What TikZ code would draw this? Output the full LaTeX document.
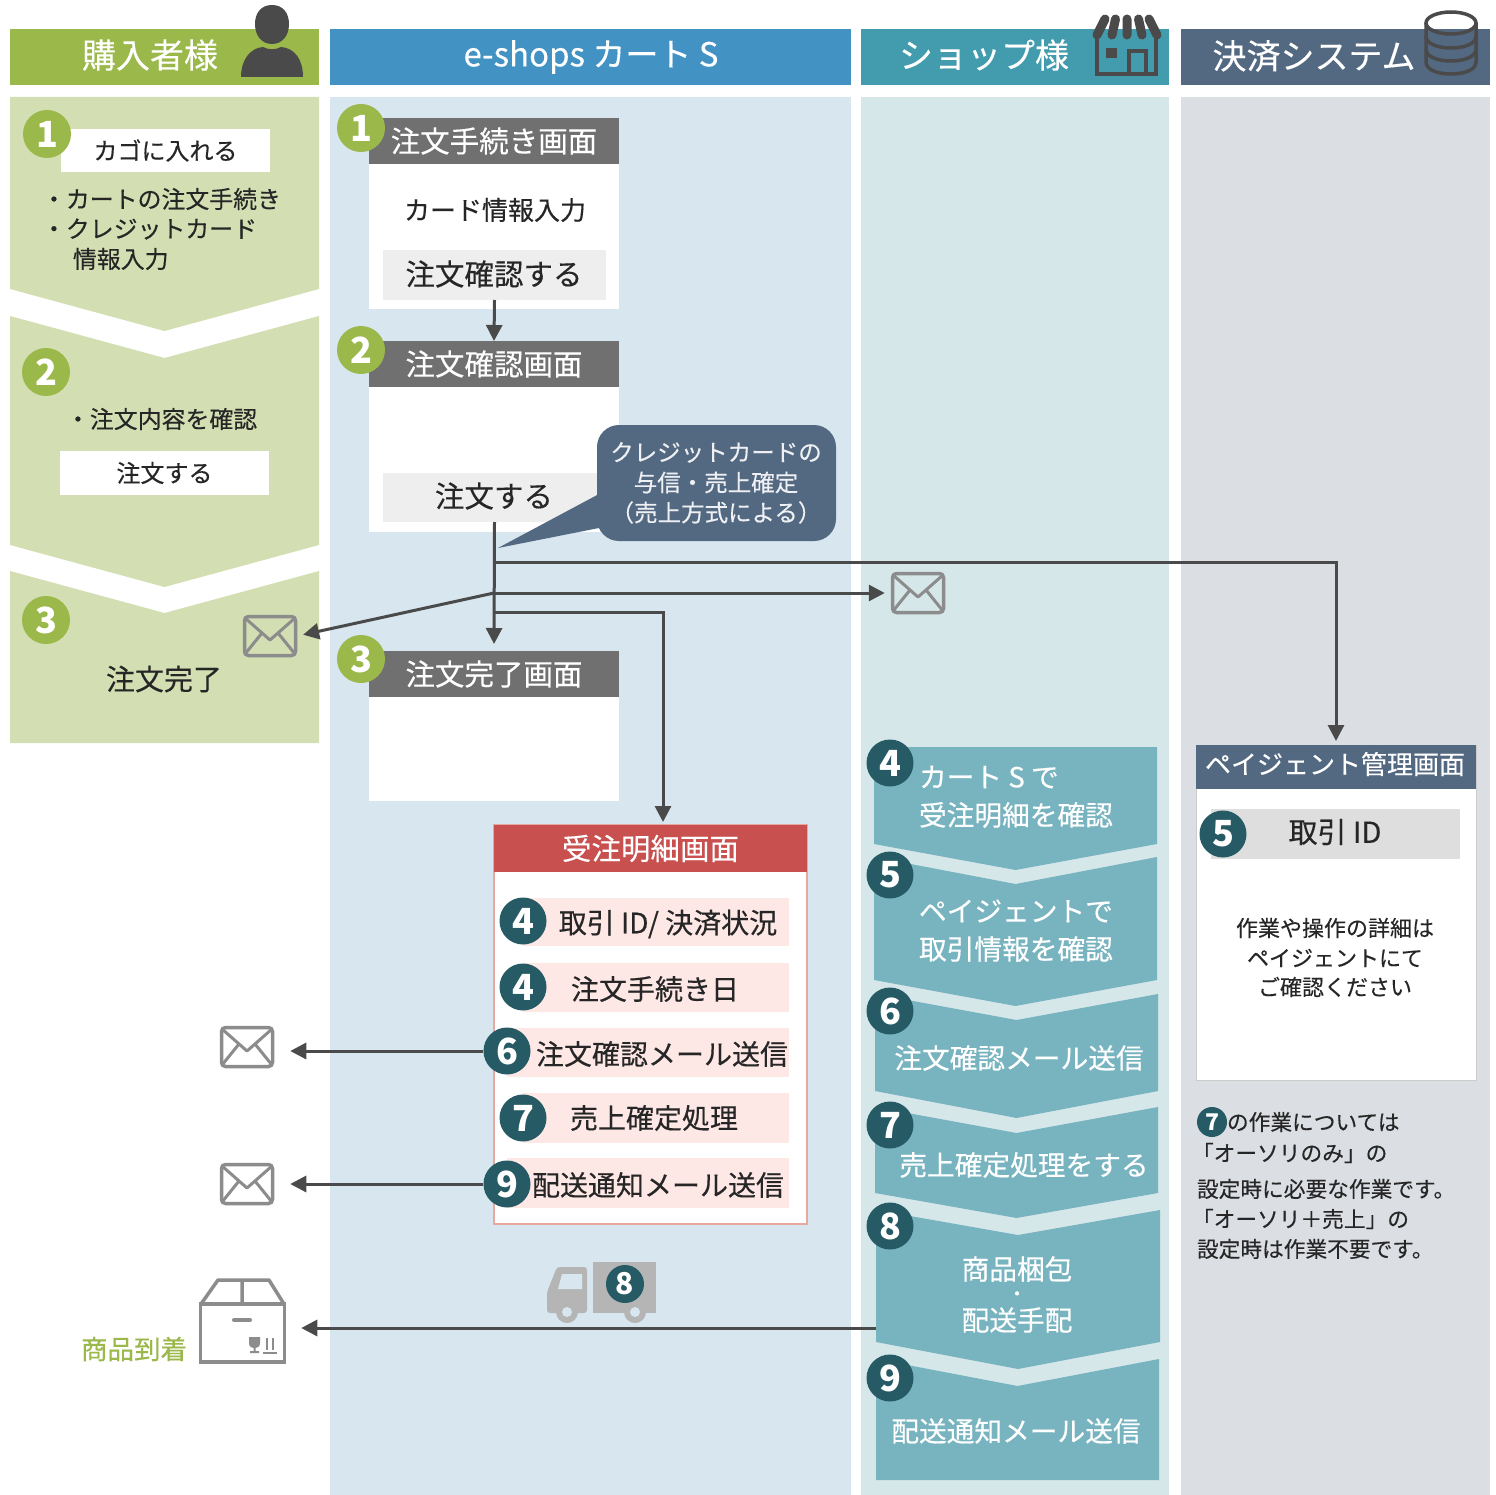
\documentclass[tikz,border=0pt]{standalone}
\usepackage{fontspec}
\setmainfont{Noto Sans CJK JP}[UprightFeatures={FakeBold=0.3}]
\usetikzlibrary{arrows.meta,calc}
\definecolor{hgreen}{HTML}{9BB84A}
\definecolor{hblue}{HTML}{4292C4}
\definecolor{hteal}{HTML}{429CAD}
\definecolor{hslate}{HTML}{536981}
\definecolor{pgreen}{HTML}{D3DFB2}
\definecolor{pblue}{HTML}{D8E6EF}
\definecolor{pteal}{HTML}{D6E7EA}
\definecolor{pslate}{HTML}{DBDFE4}
\definecolor{chev}{HTML}{78B4C0}
\definecolor{dkteal}{HTML}{265A64}
\definecolor{hgray}{HTML}{707070}
\definecolor{btn}{HTML}{EEEEEE}
\definecolor{pinkrow}{HTML}{FDE8E6}
\definecolor{redh}{HTML}{C8504F}
\definecolor{redb}{HTML}{E8A8A0}
\definecolor{ink}{HTML}{262626}
\definecolor{icon}{HTML}{4A4A4A}
\definecolor{mailc}{HTML}{8C8C8C}
\definecolor{truckc}{HTML}{B5B5B5}
\newcommand\pxs[1]{\fontsize{#1}{#1}\selectfont}
% box by its corners: name, x1,y1,x2,y2, style, text
\newcommand\bx[7]{\node[#6,inner sep=0pt,outer sep=0pt,minimum width={(#4-#2)*1pt},minimum height={(#5-#3)*1pt}] (#1) at ({(#2+#4)/2},{(#3+#5)/2}) {#7};}
% chevron panel
\newcommand\chv[7]{\fill[#7] (#1,#3) -- ({(#1+#2)/2},#4) -- (#2,#3) -- (#2,#5) -- ({(#1+#2)/2},#6) -- (#1,#5) -- cycle;}
% envelope icon
\newcommand\mailicon[3]{%
  \node[draw=mailc,line width=3.5pt,rounded corners=4pt,minimum width=51pt,minimum height=39pt,inner sep=0pt] (#1) at (#2,#3) {};
  \begin{scope}[shift={(#2,#3)}]
    \draw[mailc,line width=3pt,line join=round] (-25,-18) -- (0,4) -- (25,-18) (-25,18) -- (-8,-3) (25,18) -- (8,-3);
  \end{scope}}
\tikzset{
  lbl/.style={inner sep=0pt,outer sep=0pt,align=center,text=ink},
  hd/.style={inner sep=0pt,outer sep=0pt,text=white},
  numg/.style={circle,fill=hgreen,text=white,minimum size=48pt,inner sep=0pt,font=\pxs{36}\bfseries},
  numd/.style={circle,fill=dkteal,text=white,minimum size=47pt,inner sep=0pt,font=\pxs{36}\bfseries},
  ln/.style={draw=icon,line width=3pt},
  arr/.style={ln,-{Triangle[length=16pt,width=16pt]}},
}
\begin{document}
\begin{tikzpicture}[x=1pt,y=-1pt]
\useasboundingbox (0,0) rectangle (1496,1495);
\fill[white] (0,0) rectangle (1496,1495);
% headers
\bx{hb1}{10}{29}{319}{85}{fill=hgreen}{}
\bx{hb2}{330}{29}{851}{85}{fill=hblue}{}
\bx{hb3}{861}{29}{1169}{85}{fill=hteal}{}
\bx{hb4}{1181}{29}{1490}{85}{fill=hslate}{}
\node[hd,font=\pxs{34}] (ht1) at (150,55) {購入者様};
\node[hd,font=\pxs{33}] (ht2) at (591,57) {e-shops カート S};
\node[hd,font=\pxs{34}] (ht3) at (984,55) {ショップ様};
\node[hd,font=\pxs{34}] (ht4) at (1314,56) {決済システム};
% person icon
\fill[icon] (272,5) .. controls (261,5) and (255,13) .. (255,24) .. controls (255,36) and (262,44) .. (272,44) .. controls (282,44) and (289,36) .. (289,24) .. controls (289,13) and (283,5) .. (272,5) -- cycle;
\fill[icon] (241,77) .. controls (241,60) and (250,48) .. (263,47) .. controls (268,50) and (276,50) .. (281,47) .. controls (295,48) and (303,60) .. (303,77) -- cycle;
% shop icon
\draw[icon,line width=9pt,line cap=round] (1105,19) -- (1097,35) (1115.5,19) -- (1112,35) (1127,19) -- (1127,35) (1138.5,19) -- (1142,35) (1149,19) -- (1157,35);
\draw[icon,line width=3.5pt] (1097,38) -- (1097,74) -- (1156,74) -- (1156,38) (1129,74) -- (1129,51) -- (1146,51) -- (1146,74);
\fill[icon] (1106,48) rectangle (1117,58);
% database icon
\begin{scope}[icon,line width=3.5pt]
\draw (1451,23) ellipse [x radius=25pt,y radius=11pt];
\draw (1426,23) -- (1426,62) .. controls (1426,70) and (1438,74) .. (1451,74) .. controls (1464,74) and (1476,70) .. (1476,62) -- (1476,23);
\draw (1426,36) .. controls (1426,44) and (1438,48) .. (1451,48) .. controls (1464,48) and (1476,44) .. (1476,36);
\draw (1426,49) .. controls (1426,57) and (1438,61) .. (1451,61) .. controls (1464,61) and (1476,57) .. (1476,49);
\end{scope}
% lanes
\fill[pblue] (330,97) rectangle (851,1495);
\fill[pteal] (861,97) rectangle (1169,1495);
\fill[pslate] (1181,97) rectangle (1490,1495);
% buyer lane
\chv{10}{319}{97}{97}{289}{331}{pgreen}
\chv{10}{319}{316}{358}{545}{587}{pgreen}
\chv{10}{319}{571}{613}{743}{743}{pgreen}
\bx{b1}{61}{129}{270}{172}{fill=white,text=ink,font=\pxs{24}}{カゴに入れる}
\node[numg] (ga1) at (47,134) {1};
\node[lbl,anchor=west,font=\pxs{23.9}] (bt1) at (42,199) {・カートの注文手続き};
\node[lbl,anchor=west,font=\pxs{23.9}] (bt2) at (42,229) {・クレジットカード};
\node[lbl,anchor=west,font=\pxs{23.9}] (bt3) at (73,259) {情報入力};
\node[numg] (ga2) at (46,372) {2};
\node[lbl,anchor=west,font=\pxs{23.9}] (bt4) at (66,419) {・注文内容を確認};
\bx{b2}{60}{451}{269}{495}{fill=white,text=ink,font=\pxs{24}}{注文する}
\node[numg] (ga3) at (46,620) {3};
\node[lbl,font=\pxs{29}] (bt5) at (164,679) {注文完了};
% cart lane screens
\bx{s1}{369}{118}{619}{309}{fill=white}{}
\bx{h1}{369}{118}{619}{164}{fill=hgray,text=white,font=\pxs{29.5}}{注文手続き画面}
\node[lbl,font=\pxs{26}] (t1) at (495,210) {カード情報入力};
\bx{btn1}{383}{250}{606}{300}{fill=btn}{}
\node[lbl,font=\pxs{29.5}] (btn1t) at (494,274) {注文確認する};
\bx{s2}{369}{341}{619}{532}{fill=white}{}
\bx{h2}{369}{341}{619}{387}{fill=hgray,text=white,font=\pxs{29.5}}{注文確認画面}
\bx{btn2}{383}{473}{606}{522}{fill=btn}{}
\node[lbl,font=\pxs{29.5}] (btn2t) at (494,496) {注文する};
\bx{s3}{369}{651}{619}{801}{fill=white}{}
\bx{h3}{369}{651}{619}{697}{fill=hgray,text=white,font=\pxs{29.5}}{注文完了画面}
\node[numg] (gb1) at (361,128) {1};
\node[numg] (gb2) at (361,350) {2};
\node[numg] (gb3) at (361,659) {3};
% callout
\fill[hslate] (599,494) -- (498,548) -- (599,528) -- cycle;
\fill[hslate,rounded corners=22pt] (597,425) rectangle (836,541);
\node[hd,font=\pxs{23.5},text=white!90!hslate] (co1) at (716,452.5) {クレジットカードの};
\node[hd,font=\pxs{23.5},text=white!90!hslate] (co2) at (716,482.5) {与信・売上確定};
\node[hd,font=\pxs{23.5},text=white!90!hslate] (co3) at (716,512.5) {（売上方式による）};
% red detail box
\bx{rd}{494}{825}{807}{1224}{fill=white,draw=redb,line width=1.5pt}{}
\bx{rh}{494}{825}{807}{872}{fill=redh,text=white,font=\pxs{29.5}}{受注明細画面}
\bx{r1}{523}{898}{789}{946}{fill=pinkrow}{}
\bx{r2}{523}{963}{789}{1012}{fill=pinkrow}{}
\bx{r3}{507}{1028}{789}{1077}{fill=pinkrow}{}
\bx{r4}{523}{1093}{789}{1143}{fill=pinkrow}{}
\bx{r5}{507}{1158}{789}{1208}{fill=pinkrow}{}
\node[lbl,font=\pxs{28}] (rt1) at (668,924) {取引 ID/ 決済状況};
\node[lbl,font=\pxs{28}] (rt2) at (655,989) {注文手続き日};
\node[lbl,font=\pxs{28}] (rt3) at (662,1054) {注文確認メール送信};
\node[lbl,font=\pxs{28}] (rt4) at (654,1118) {売上確定処理};
\node[lbl,font=\pxs{28}] (rt5) at (658,1185) {配送通知メール送信};
\node[numd] (d4a) at (523,921) {4};
\node[numd] (d4b) at (523,987) {4};
\node[numd] (d6) at (507,1051) {6};
\node[numd] (d7) at (523,1118) {7};
\node[numd] (d9) at (507,1184) {9};
% mails
\mailicon{m1}{270}{636}
\mailicon{m2}{918}{593}
\mailicon{m3}{247}{1047}
\mailicon{m4}{247}{1184}
% truck
\fill[truckc] (593,1262) rectangle (656,1313);
\fill[truckc,rounded corners=3pt] (587,1313) -- (547,1313) -- (547,1292) -- (557,1267) -- (587,1267) -- cycle;
\fill[pblue] (558,1289) -- (562,1274) -- (582,1274) -- (582,1289) -- cycle;
\fill[truckc] (567,1312) circle (11pt) (635,1312) circle (11pt);
\fill[pblue] (567,1312) circle (5pt) (635,1312) circle (5pt);
\node[circle,fill=dkteal,text=white,minimum size=38pt,inner sep=0pt,font=\pxs{30}\bfseries] (d8t) at (625,1284) {8};
% package
\node[draw=mailc,line width=3.5pt,minimum width=84pt,minimum height=58pt,inner sep=0pt] (pkg) at (242.5,1333) {};
\draw[mailc,line width=3.5pt,line join=round] (201,1304) -- (218,1280) -- (269,1280) -- (284,1304) (242,1280) -- (242,1304);
\draw[mailc,line width=4pt,line cap=round] (234,1320) -- (250,1320);
\fill[mailc] (249,1337) -- (260,1337) -- (260,1343) .. controls (260,1347) and (257,1348) .. (255.5,1348) -- (255.5,1351) -- (259,1351) -- (259,1353) -- (250,1353) -- (250,1351) -- (253.5,1351) -- (253.5,1348) .. controls (252,1348) and (249,1347) .. (249,1343) -- cycle;
\draw[mailc,line width=1.5pt] (267,1338) -- (267,1350) (273,1338) -- (273,1350) (263,1353) -- (277,1353);
\node[inner sep=0pt,text=hgreen,font=\pxs{26.5}] (pk) at (134,1349) {商品到着};
% chevrons shop lane
\chv{874}{1157}{747}{747}{844}{870}{chev}
\chv{874}{1157}{857}{884}{980}{1006}{chev}
\chv{875}{1158}{994}{1020}{1091}{1118}{chev}
\chv{875}{1158}{1107}{1133}{1193}{1218}{chev}
\chv{876}{1160}{1210}{1235}{1342}{1369}{chev}
\chv{876}{1159}{1359}{1386}{1480}{1480}{chev}
\node[hd,anchor=west,font=\pxs{27.7}] (st1) at (919,777) {カート S で};
\node[hd,anchor=west,font=\pxs{27.7}] (st2) at (919,815) {受注明細を確認};
\node[hd,anchor=west,font=\pxs{27.7}] (st3) at (919,911) {ペイジェントで};
\node[hd,anchor=west,font=\pxs{27.7}] (st4) at (919,949) {取引情報を確認};
\node[hd,font=\pxs{27.7}] (st5) at (1019,1058) {注文確認メール送信};
\node[hd,font=\pxs{27.7}] (st6) at (1024,1165) {売上確定処理をする};
\node[hd,font=\pxs{27.7}] (st7) at (1017,1269) {商品梱包};
\node[hd,font=\pxs{19}] (st8) at (1017,1296) {・};
\node[hd,font=\pxs{27.7}] (st9) at (1017,1320) {配送手配};
\node[hd,font=\pxs{27.7}] (st10) at (1016,1431) {配送通知メール送信};
\node[numd] (e4) at (890,763) {4};
\node[numd] (e5) at (890,875) {5};
\node[numd] (e6) at (890,1011) {6};
\node[numd] (e7) at (890,1125) {7};
\node[numd] (e8) at (890,1226) {8};
\node[numd] (e9) at (890,1378) {9};
% payment agent screen
\bx{pg}{1196}{745}{1476}{1080}{fill=white,draw=black!20,line width=1pt}{}
\bx{ph}{1196}{745}{1476}{789}{fill=hslate}{}
\node[hd,font=\pxs{26}] (pht) at (1335,764) {ペイジェント管理画面};
\bx{pid}{1211}{809}{1460}{859}{fill=black!13}{}
\node[lbl,font=\pxs{29}] (pidt) at (1335,832) {取引 ID};
\node[numd] (pn) at (1223,834) {5};
\node[lbl,font=\pxs{22}] (pt1) at (1335,928) {作業や操作の詳細は};
\node[lbl,font=\pxs{22}] (pt2) at (1335,958) {ペイジェントにて};
\node[lbl,font=\pxs{22}] (pt3) at (1335,987) {ご確認ください};
% note
\node[circle,fill=dkteal,text=white,minimum size=30pt,inner sep=0pt,font=\pxs{23}\bfseries] (n7) at (1212,1122) {7};
\node[lbl,anchor=west,font=\pxs{21.7}] (nt1) at (1227,1122) {の作業については};
\node[lbl,anchor=west,font=\pxs{21.7}] (nt2) at (1192,1153) {「オーソリのみ」の};
\node[lbl,anchor=west,font=\pxs{21.7}] (nt3) at (1197,1189) {設定時に必要な作業です。};
\node[lbl,anchor=west,font=\pxs{21.7}] (nt4) at (1192,1219) {「オーソリ＋売上」の};
\node[lbl,anchor=west,font=\pxs{21.7}] (nt5) at (1197,1249) {設定時は作業不要です。};
% connectors
\coordinate (j1) at (494,562);
\coordinate (j2) at (494,593);
\coordinate (j3) at (494,612);
\coordinate (rdin) at (663,825);
\coordinate (s8w) at (876,1328);
\draw[arr] (btn1.south) -- (h2.north);
\draw[arr,shorten >=7pt] (btn2.south) -- (h3.north);
\draw[arr,shorten >=4pt] (j1) -| (pg.north);
\draw[arr,shorten >=6pt] (j2) -- (m2.west);
\draw[arr,shorten >=6pt] (j2) -- (m1.east);
\draw[arr,shorten >=3pt] (j3) -| (rdin);
\draw[arr,shorten >=16pt] (d6.west) -- (d6.west -| m3.east);
\draw[arr,shorten >=16pt] (d9.west) -- (d9.west -| m4.east);
\draw[arr,shorten >=15pt] (s8w) -- (s8w -| pkg.east);
\end{tikzpicture}
\end{document}
